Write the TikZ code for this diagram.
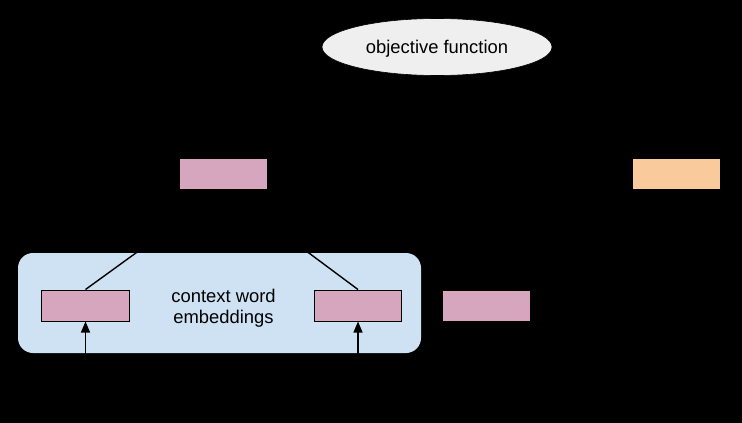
\documentclass[tikz,border=0pt]{standalone}
\usepackage{fontspec}
\setmainfont{Liberation Sans}
\usetikzlibrary{arrows.meta,shapes.geometric}
\definecolor{pinkc}{HTML}{D5A6BD}
\definecolor{orangec}{HTML}{F9CB9C}
\definecolor{bluec}{HTML}{CFE2F3}
\definecolor{greyc}{HTML}{EFEFEF}
\tikzset{
  vec/.style={draw=black, line width=1pt, fill=pinkc, minimum width=87.5pt, minimum height=31pt, inner sep=0pt},
  ovec/.style={vec, fill=orangec},
  lbl/.style={font=\fontsize{18.4pt}{21pt}\selectfont, text=black, align=center},
  conn/.style={draw=black, line width=1.4pt},
  arr/.style={conn, -{Triangle[length=11pt,width=9pt]}}
}
\begin{document}
\begin{tikzpicture}[x=1pt,y=-1pt]
\fill[black] (0,0) rectangle (742,423);
\useasboundingbox (0,0) rectangle (742,423);
% context group
\node[fill=bluec, rounded corners=15pt, minimum width=403pt, minimum height=100pt, inner sep=0pt] (ctx) at (219.5,303) {};
\node[lbl] (ctxlbl) at (223.5,308.5) {context word\\embeddings};
% nodes
\node[ellipse, fill=greyc, draw=black, line width=0.6pt, minimum width=230pt, minimum height=57pt, inner sep=0pt] (obj) at (437,47) {};
\node[lbl] (objlbl) at (437,48.5) {objective function};
\node[vec] (hid) at (223.5,173.5) {};
\node[ovec] (out) at (676.5,173.5) {};
\node[vec] (e1) at (85.5,305.5) {};
\node[vec] (e2) at (358,305.5) {};
\node[vec] (e3) at (486.5,305.5) {};
\coordinate (in1) at (85.5,410);
\coordinate (in2) at (358,410);
% connectors
\draw[conn] (e1.north) -- (hid.south);
\draw[conn] (e2.north) -- (hid.south);
\draw[arr] (in1) -- (e1.south);
\draw[arr] (in2) -- (e2.south);
\end{tikzpicture}
\end{document}
